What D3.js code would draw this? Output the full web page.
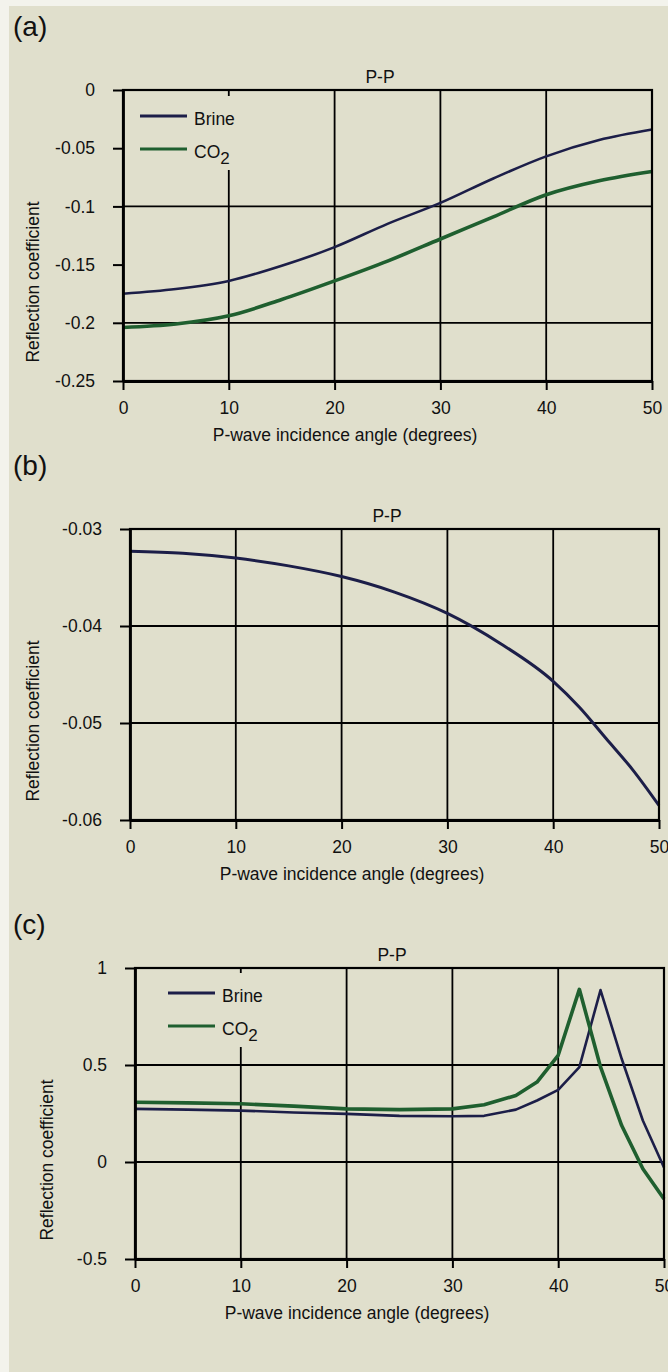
<!DOCTYPE html>
<html>
<head>
<meta charset="utf-8">
<script src="https://cdn.jsdelivr.net/npm/d3@7"></script>
<style>
  body { margin: 0; background: #f3f3ec; }
  svg text { font-family: "Liberation Sans", Arial, sans-serif; fill: #111; }
</style>
</head>
<body>
<svg id="chart" width="668" height="1372"></svg>
<script>
// values (P-wave incidence angle in degrees)
const xTicks = [0, 10, 20, 30, 40, 50];
const xGrid = [10, 20, 30, 40];

// (a)
const anglesA = [0, 5, 10, 15, 20, 25, 30, 35, 40, 45, 50];
const brineA = [-0.175, -0.171, -0.164, -0.151, -0.135, -0.115, -0.097, -0.076, -0.057, -0.043, -0.034];
const co2A = [-0.204, -0.201, -0.194, -0.180, -0.164, -0.147, -0.128, -0.109, -0.090, -0.078, -0.070];
const yTicksA = [0, -0.05, -0.1, -0.15, -0.2, -0.25];
const yGridA = [-0.1, -0.2];

// (b)
const anglesB = [0, 5, 10, 15, 20, 25, 30, 35, 40, 42.5, 45, 47.5, 50];
const brineB = [-0.0323, -0.0325, -0.0330, -0.0338, -0.0349, -0.0365, -0.0387, -0.0418, -0.0457, -0.0484, -0.0516, -0.0548, -0.0585];
const yTicksB = [-0.03, -0.04, -0.05, -0.06];
const yGridB = [-0.04, -0.05];

// (c)
const anglesC = [0, 5, 10, 15, 20, 25, 30, 33, 36, 38, 40, 42, 44, 46, 48, 50];
const brineC = [0.274, 0.270, 0.265, 0.255, 0.248, 0.238, 0.236, 0.238, 0.270, 0.317, 0.372, 0.489, 0.886, 0.532, 0.214, -0.028];
const co2C = [0.308, 0.305, 0.300, 0.288, 0.274, 0.270, 0.274, 0.295, 0.343, 0.412, 0.550, 0.890, 0.490, 0.188, -0.035, -0.191];
const yTicksC = [1, 0.5, 0, -0.5];
const yGridC = [0.5, 0];

const BRINE = '#1c1e48', CO2 = '#1f5f2f';
const W = 529, H = 291;

const svg = d3.select('#chart');
svg.append('rect')
    .attr('x', 9).attr('y', 6)
    .attr('width', 659).attr('height', 1366)
    .attr('fill', '#e0dfcc');

const fmt = d => String(d);

function drawPanel(p) {
    const g = svg.append('g').attr('transform', 'translate(' + p.left + ',' + p.top + ')');
    const x = d3.scaleLinear().domain([0, 50]).range([0, W]);
    const y = d3.scaleLinear().domain(p.yDomain).range([H, 0]);

    // grid lines
    g.selectAll('.vgrid').data(xGrid).enter().append('line')
        .attr('x1', d => x(d)).attr('x2', d => x(d))
        .attr('y1', 0).attr('y2', H)
        .attr('stroke', '#000').attr('stroke-width', 1.8);
    g.selectAll('.hgrid').data(p.yGrid).enter().append('line')
        .attr('x1', 0).attr('x2', W)
        .attr('y1', d => y(d)).attr('y2', d => y(d))
        .attr('stroke', '#000').attr('stroke-width', 1.8);

    // legend box hides the grid behind it
    if (p.legend) {
        const L = p.legend;
        g.append('rect')
            .attr('x', L.x).attr('y', L.y)
            .attr('width', L.w).attr('height', L.h)
            .attr('fill', '#e0dfcc');
    }

    // series
    const line = d3.line()
        .x(d => x(d[0]))
        .y(d => y(d[1]))
        .curve(p.curve);
    p.series.forEach(s => {
        g.append('path')
            .datum(p.angles.map((a, i) => [a, s.values[i]]))
            .attr('d', line)
            .attr('fill', 'none')
            .attr('stroke', s.color)
            .attr('stroke-width', s.width)
            .attr('stroke-linejoin', 'round');
    });

    // frame
    g.append('rect')
        .attr('width', W).attr('height', H)
        .attr('fill', 'none').attr('stroke', '#000').attr('stroke-width', 2.2);

    // axes
    const yAxis = g.append('g')
        .call(d3.axisLeft(y).tickValues(p.yTicks).tickSize(10).tickSizeOuter(0).tickPadding(18).tickFormat(fmt));
    const xAxis = g.append('g')
        .attr('transform', 'translate(0,' + H + ')')
        .call(d3.axisBottom(x).tickValues(xTicks).tickSize(9).tickSizeOuter(0).tickPadding(12).tickFormat(fmt));
    [yAxis, xAxis].forEach(a => {
        a.attr('font-size', 17.5).attr('font-family', null);
        a.select('.domain').attr('stroke', '#000').attr('stroke-width', 2.8);
        a.selectAll('.tick line').attr('stroke', '#000').attr('stroke-width', 2);
        a.selectAll('.tick text').attr('fill', '#111');
    });

    // titles
    g.append('text')
        .attr('x', 257).attr('y', -13).attr('dy', '0.35em')
        .attr('text-anchor', 'middle').attr('font-size', 17.5)
        .text('P-P');
    g.append('text')
        .attr('x', 222).attr('y', H + 54).attr('dy', '0.35em')
        .attr('text-anchor', 'middle').attr('font-size', 17.5)
        .text('P-wave incidence angle (degrees)');
    g.append('text')
        .attr('transform', 'translate(' + p.yTitleX + ',' + 192 + ') rotate(-90)')
        .attr('dy', '0.35em')
        .attr('text-anchor', 'middle').attr('font-size', 17.5)
        .text('Reflection coefficient');

    // panel label
    svg.append('text')
        .attr('x', 13).attr('y', p.labelY)
        .attr('font-size', 28)
        .text(p.label);

    // legend entries
    if (p.legend) {
        const L = p.legend;
        p.series.forEach((s, i) => {
            const ly = L.y + L.first + i * 33;
            g.append('line')
                .attr('x1', L.sx).attr('x2', L.sx + 47)
                .attr('y1', ly).attr('y2', ly)
                .attr('stroke', s.color).attr('stroke-width', 3.2);
            const t = g.append('text')
                .attr('x', L.sx + 54).attr('y', ly + 3).attr('dy', '0.35em')
                .attr('font-size', 17.5);
            t.append('tspan').text(s.name);
            if (s.sub) {
                t.append('tspan').attr('dy', 6).attr('font-size', 17).text(s.sub);
            }
        });
    }
}

drawPanel({
    label: '(a)', labelY: 36,
    left: 123, top: 90,
    yDomain: [-0.25, 0], yTicks: yTicksA, yGrid: yGridA,
    yTitleX: -90,
    angles: anglesA, curve: d3.curveMonotoneX,
    series: [
        {name: 'Brine', values: brineA, color: BRINE, width: 2.6},
        {name: 'CO', sub: '2', values: co2A, color: CO2, width: 3.6}
    ],
    legend: {x: 7, y: 6, w: 112, h: 74, sx: 17, first: 20}
});

drawPanel({
    label: '(b)', labelY: 475,
    left: 130, top: 529,
    yDomain: [-0.06, -0.03], yTicks: yTicksB, yGrid: yGridB,
    yTitleX: -97,
    angles: anglesB, curve: d3.curveMonotoneX,
    series: [
        {name: 'Brine', values: brineB, color: BRINE, width: 3}
    ]
});

drawPanel({
    label: '(c)', labelY: 934,
    left: 135, top: 968,
    yDomain: [-0.5, 1], yTicks: yTicksC, yGrid: yGridC,
    yTitleX: -88,
    angles: anglesC, curve: d3.curveLinear,
    series: [
        {name: 'Brine', values: brineC, color: BRINE, width: 2.6},
        {name: 'CO', sub: '2', values: co2C, color: CO2, width: 3.6}
    ],
    legend: {x: 25, y: 5, w: 100, h: 74, sx: 33, first: 20}
});
</script>
</body>
</html>
